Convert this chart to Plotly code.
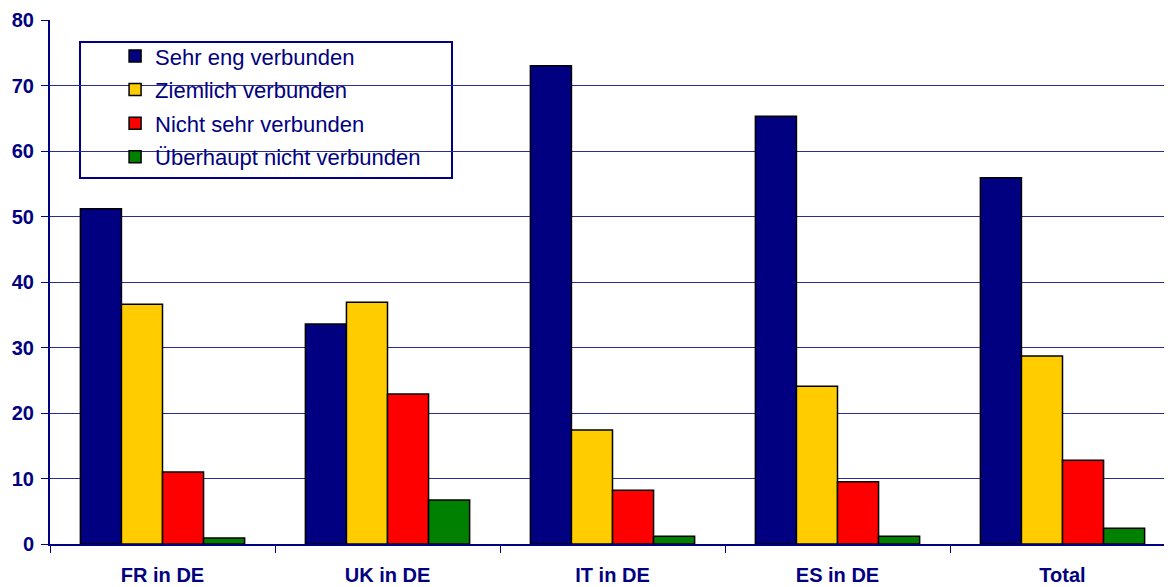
import plotly.graph_objects as go

categories = ["FR in DE", "UK in DE", "IT in DE", "ES in DE", "Total"]
series_names = ["Sehr eng verbunden", "Ziemlich verbunden", "Nicht sehr verbunden", "Überhaupt nicht verbunden"]
sehr_eng = [51.2, 33.6, 73.0, 65.3, 55.9]
ziemlich = [36.6, 36.9, 17.4, 24.1, 28.7]
nicht_sehr = [11.0, 22.9, 8.2, 9.5, 12.8]
ueberhaupt = [0.9, 6.7, 1.2, 1.2, 2.4]
y_ticks = [0, 10, 20, 30, 40, 50, 60, 70, 80]

colors = ["#000080", "#FFCC00", "#FF0000", "#008000"]
NAVY = "#000080"
FONT = "Arial, Liberation Sans, sans-serif"

fig = go.Figure()
for i, (name, vals) in enumerate(zip(series_names, [sehr_eng, ziemlich, nicht_sehr, ueberhaupt])):
    fig.add_trace(go.Bar(
        x=categories, y=vals, name=name, legendgroup=f"g{i}",
        marker=dict(color=colors[i], line=dict(color="black", width=1.5)),
    ))

fig.update_layout(
    width=1164, height=579,
    margin=dict(l=42, r=0, t=12, b=43),
    paper_bgcolor="white", plot_bgcolor="white",
    barmode="group", bargap=0.27, bargroupgap=0,
    font=dict(family=FONT, color=NAVY),
    legend=dict(
        x=0.058, y=0.971, xanchor="left", yanchor="top",
        bgcolor="rgba(0,0,0,0)", borderwidth=0,
        font=dict(size=22, color=NAVY, family=FONT),
        tracegroupgap=2, itemwidth=30,
    ),
    shapes=[dict(type="rect", xref="paper", yref="paper",
                 x0=(80 - 50) / 1122, x1=(452 - 50) / 1122,
                 y0=(544 - 178) / 524, y1=(544 - 42) / 524,
                 line=dict(color=NAVY, width=2), fillcolor="white", layer="below")],
)
fig.update_xaxes(
    automargin=False,
    range=[-0.5, -0.5 + 1122 / 225],
    showline=True, linecolor=NAVY, linewidth=2,
    ticks="outside", tickson="boundaries", ticklen=7, tickcolor=NAVY, tickwidth=1,
    ticklabelstandoff=12,
    tickfont=dict(size=20, color=NAVY, family=FONT, weight="bold"),
    showgrid=False,
)
fig.update_yaxes(
    automargin=False,
    range=[0, 80], tickvals=y_ticks, ticktext=[str(v) for v in y_ticks],
    showline=True, linecolor=NAVY, linewidth=2,
    ticks="outside", ticklen=7, tickcolor=NAVY, tickwidth=1,
    ticklabelstandoff=3,
    tickfont=dict(size=20, color=NAVY, family=FONT, weight="bold"),
    showgrid=True, gridcolor="#2a2a9a", gridwidth=1, zeroline=False,
)
fig.write_html("out.html")
